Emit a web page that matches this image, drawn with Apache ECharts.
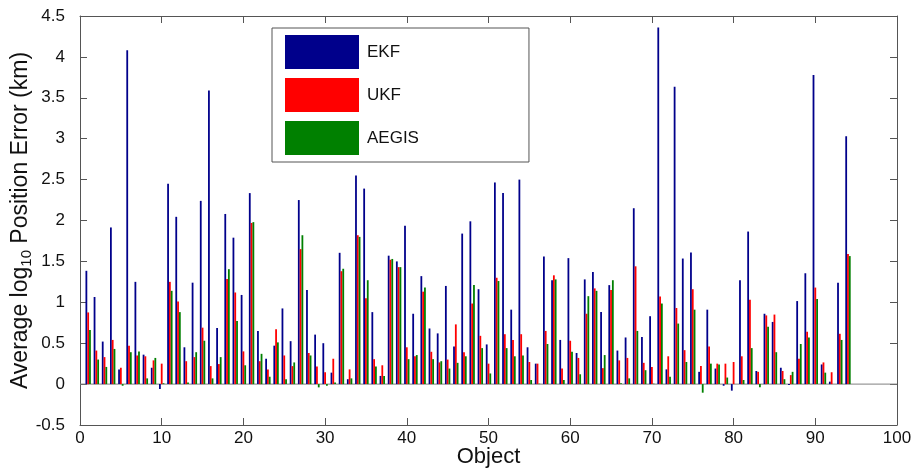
<!DOCTYPE html>
<html>
<head>
<meta charset="utf-8">
<title>Average log10 Position Error per Object</title>
<script src="https://cdn.jsdelivr.net/npm/echarts@6/dist/echarts.min.js"></script>
<style>
  html, body { margin: 0; padding: 0; background: #ffffff; }
  #chart { width: 915px; height: 469px; }
</style>
</head>
<body>
<div id="chart"></div>
<script>
// Object indices 1..94
const objects = Array.from({ length: 94 }, (_, k) => k + 1);

// Average log10 position error (km) per object, one array per filter
const ekf = [
  1.385, 1.065, 0.52, 1.915, 0.18, 4.08, 1.25, 0.36, 0.20, -0.06,
  2.45, 2.045, 0.45, 1.24, 2.24, 3.59, 0.685, 2.08, 1.79, 1.09,
  2.335, 0.65, 0.31, 0.47, 0.925, 0.525, 2.25, 1.15, 0.605, 0.50,
  0.14, 1.605, 0.06, 2.55, 2.39, 0.88, 0.10, 1.57, 1.50, 1.935,
  0.86, 1.32, 0.68, 0.62, 1.20, 0.46, 1.84, 1.99, 1.16, 0.485,
  2.465, 2.335, 0.91, 2.50, 0.45, 0.25, 1.56, 1.27, 0.54, 1.54,
  0.38, 1.28, 1.37, 0.88, 1.21, 0.41, 0.57, 2.15, 0.575, 0.83,
  4.36, 0.18, 3.635, 1.535, 1.61, 0.15, 0.91, 0.19, -0.02, -0.08,
  1.27, 1.865, 0.16, 0.86, 0.76, 0.20, -0.01, 1.015, 1.355, 3.78,
  0.24, 0.03, 1.24, 3.03
];
const ukf = [
  0.876, 0.41, 0.33, 0.54, 0.20, 0.47, 0.35, 0.34, 0.29, 0.25,
  1.25, 1.01, 0.28, 0.33, 0.69, 0.22, 0.245, 1.285, 1.12, 0.40,
  1.97, 0.28, 0.18, 0.67, 0.35, 0.22, 1.65, 0.38, 0.215, 0.145,
  0.31, 1.38, 0.18, 1.82, 1.05, 0.305, 0.23, 1.52, 1.43, 0.45,
  0.34, 1.13, 0.395, 0.265, 0.30, 0.73, 0.39, 0.985, 0.59, 0.25,
  1.30, 0.61, 0.54, 0.61, 0.27, 0.25, 0.65, 1.33, 0.19, 0.53,
  0.32, 0.86, 1.17, 0.195, 1.15, 0.29, 0.32, 1.44, 0.26, 0.21,
  1.07, 0.34, 0.93, 0.415, 1.16, 0.22, 0.46, 0.25, 0.25, 0.27,
  0.34, 1.03, 0.15, 0.84, 0.85, 0.16, 0.11, 0.31, 0.64, 1.18,
  0.265, 0.145, 0.615, 1.59
];
const aegis = [
  0.66, 0.30, 0.21, 0.43, -0.02, 0.39, 0.40, 0.07, 0.32, 0.01,
  1.14, 0.88, 0.02, 0.39, 0.53, 0.07, 0.33, 1.405, 0.77, 0.23,
  1.98, 0.37, 0.09, 0.51, 0.06, 0.265, 1.82, 0.35, -0.04, -0.02,
  0.02, 1.41, 0.07, 1.80, 1.27, 0.215, 0.10, 1.53, 1.43, 0.305,
  0.355, 1.18, 0.305, 0.28, 0.19, 0.26, 0.34, 1.21, 0.44, 0.13,
  1.26, 0.44, 0.34, 0.35, 0.05, 0.005, 0.49, 1.28, 0.05, 0.395,
  0.12, 1.075, 1.14, 0.355, 1.27, 0.01, 0.07, 0.65, 0.17, 0.005,
  0.985, 0.09, 0.74, 0.27, 0.91, -0.105, 0.25, 0.24, 0.08, 0.0,
  0.05, 0.44, -0.04, 0.70, 0.39, 0.06, 0.15, 0.49, 0.57, 1.04,
  0.14, 0.0, 0.54, 1.565
];

const seriesNames = ['EKF', 'UKF', 'AEGIS'];
const seriesColors = ['#00008b', '#ff0000', '#008000'];
const seriesValues = [ekf, ukf, aegis];

// grouped bar layout in data units
const BAR_WIDTH = 0.22;
const GROUP_OFFSETS = [-0.22, 0, 0.22];

const FONT = '"Liberation Sans", Arial, Helvetica, sans-serif';
const AXIS_COLOR = '#555555';

function groupedBar(offset, color) {
  return function (params, api) {
    const x = api.value(0) + offset;
    const v = api.value(1);
    const base = api.coord([x, 0]);
    const top = api.coord([x, v]);
    const w = api.size([BAR_WIDTH, 0])[0];
    return {
      type: 'rect',
      shape: {
        x: base[0] - w / 2,
        y: Math.min(base[1], top[1]),
        width: w,
        height: Math.abs(top[1] - base[1])
      },
      style: { fill: color }
    };
  };
}

const chart = echarts.init(document.getElementById('chart'), null, { renderer: 'canvas' });

const hiddenAxisLabel = { show: false };
const insideTicks = { show: true, inside: true, length: 7, lineStyle: { color: AXIS_COLOR } };

const option = {
  animation: false,
  backgroundColor: '#ffffff',
  textStyle: { fontFamily: FONT },
  grid: { left: 80, right: 18, top: 16, bottom: 44, containLabel: false, outerBoundsMode: 'none' },
  legend: {
    data: seriesNames.map(n => ({ name: n, icon: 'rect' })),
    orient: 'vertical',
    left: 272,
    top: 28,
    itemWidth: 74,
    itemHeight: 34,
    itemGap: 9,
    padding: [7, 110, 7, 13],
    backgroundColor: '#ffffff',
    borderColor: '#555555',
    borderWidth: 1,
    textStyle: { fontSize: 17, color: '#111111', fontFamily: FONT, padding: [0, 0, 0, 3] }
  },
  xAxis: [
    {
      type: 'value',
      min: 0, max: 100, interval: 10,
      position: 'bottom',
      name: 'Object',
      nameLocation: 'middle',
      nameGap: 21,
      nameMoveOverlap: false,
      nameTextStyle: { fontSize: 22, color: '#111111', fontFamily: FONT },
      axisLine: { show: true, onZero: false, lineStyle: { color: AXIS_COLOR } },
      axisTick: insideTicks,
      axisLabel: { fontSize: 17, color: '#111111', margin: 5, fontFamily: FONT },
      splitLine: { show: false }
    },
    {
      type: 'value',
      min: 0, max: 100, interval: 10,
      position: 'top',
      axisLine: { show: true, onZero: false, lineStyle: { color: AXIS_COLOR } },
      axisTick: insideTicks,
      axisLabel: hiddenAxisLabel,
      splitLine: { show: false }
    }
  ],
  yAxis: [
    {
      type: 'value',
      min: -0.5, max: 4.5, interval: 0.5,
      position: 'left',
      name: 'Average log{sub|10} Position Error (km)',
      nameLocation: 'middle',
      nameGap: 46,
      nameMoveOverlap: false,
      nameRotate: 90,
      nameTextStyle: {
        fontSize: 23, color: '#111111', fontFamily: FONT,
        rich: {
          sub: { fontSize: 15, color: '#111111', fontFamily: FONT, padding: [12, 0, 0, 0] }
        }
      },
      axisLine: { show: true, onZero: false, lineStyle: { color: AXIS_COLOR } },
      axisTick: insideTicks,
      axisLabel: { fontSize: 17, color: '#111111', margin: 15, fontFamily: FONT },
      splitLine: { show: false }
    },
    {
      type: 'value',
      min: -0.5, max: 4.5, interval: 0.5,
      position: 'right',
      axisLine: { show: true, onZero: false, lineStyle: { color: AXIS_COLOR } },
      axisTick: insideTicks,
      axisLabel: hiddenAxisLabel,
      splitLine: { show: false }
    }
  ],
  series: [
    {
      // baseline at zero
      type: 'line',
      name: 'baseline',
      xAxisIndex: 0,
      yAxisIndex: 0,
      data: [[0, 0], [100, 0]],
      symbol: 'none',
      silent: true,
      z: 1,
      lineStyle: { color: '#808080', width: 1 }
    }
  ].concat(seriesValues.map((vals, s) => ({
    type: 'custom',
    name: seriesNames[s],
    xAxisIndex: 0,
    yAxisIndex: 0,
    z: 2,
    itemStyle: { color: seriesColors[s] },
    renderItem: groupedBar(GROUP_OFFSETS[s], seriesColors[s]),
    encode: { x: 0, y: 1 },
    data: objects.map((o, k) => [o, vals[k]])
  })))
};

chart.setOption(option);
</script>
</body>
</html>
